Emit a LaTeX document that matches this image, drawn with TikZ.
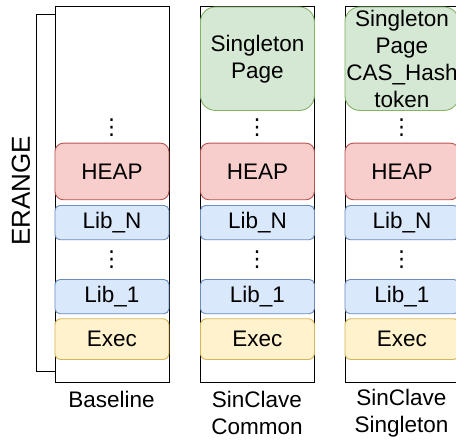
\documentclass[tikz,border=0pt]{standalone}
\usepackage{fontspec}
\setmainfont{Liberation Sans}
\newfontfamily\dotfont{DejaVu Sans}
\definecolor{gfill}{HTML}{D5E8D4}\definecolor{gdraw}{HTML}{82B366}
\definecolor{rfill}{HTML}{F8CECC}\definecolor{rdraw}{HTML}{B85450}
\definecolor{bfill}{HTML}{DAE8FC}\definecolor{bdraw}{HTML}{6C8EBF}
\definecolor{yfill}{HTML}{FFF2CC}\definecolor{ydraw}{HTML}{D6B656}
\begin{document}
\begin{tikzpicture}[x=1pt,y=-1pt,
  every node/.style={font=\fontsize{22.5}{27}\selectfont, inner sep=0pt},
  outer/.style={draw=black, fill=white, line width=1.2pt, anchor=north west, minimum width=114pt, minimum height=376pt},
  layer/.style={anchor=north west, minimum width=114pt, line width=0.9pt, align=center},
  green/.style={layer, draw=gdraw, fill=gfill, rounded corners=15pt, minimum height=103.5pt},
  heap/.style={layer, draw=rdraw, fill=rfill, rounded corners=8.5pt, minimum height=56.6pt},
  lib/.style={layer, draw=bdraw, fill=bfill, rounded corners=5pt, minimum height=34.3pt},
  exec/.style={layer, draw=ydraw, fill=yfill, rounded corners=6pt, minimum height=40.7pt},
  vdot/.style={font=\dotfont\fontsize{22}{22}\selectfont},
  lbl/.style={align=center}
]
\useasboundingbox (0,0) rectangle (456,440);

% ERANGE bracket
\node[outer] (c1) at (54.5,6) {};
\coordinate (bt) at (36.7,14.3);
\coordinate (bb) at (36.7,371.7);
\draw[line width=0.8pt] (c1.west |- bt) -- (bt) -- (bb) -- (c1.west |- bb);
\node[rotate=90, font=\fontsize{26}{30}\selectfont] (erange) at (21,191) {ERANGE};

% Column 1: Baseline
\node[vdot] (d1a) at (111.5,127.5) {⋮};
\node[heap] (h1) at (54.5,142.7) {HEAP};
\node[lib] (ln1) at (54.5,205) {Lib\_N};
\node[vdot] (d1b) at (111.5,260) {⋮};
\node[lib] (l11) at (54.5,279) {Lib\_1};
\node[exec] (e1) at (54.5,318.3) {Exec};
\node[lbl] (t1) at (111.5,399) {Baseline};

% Column 2: SinClave Common
\node[outer] (c2) at (200,6) {};
\node[green] (s2) at (200,6.5) {Singleton\\Page};
\node[vdot] (d2a) at (257,127.5) {⋮};
\node[heap] (h2) at (200,142.7) {HEAP};
\node[lib] (ln2) at (200,205) {Lib\_N};
\node[vdot] (d2b) at (257,260) {⋮};
\node[lib] (l12) at (200,279) {Lib\_1};
\node[exec] (e2) at (200,318.3) {Exec};
\node[lbl] (t2) at (257,413) {SinClave\\Common};

% Column 3: SinClave Singleton
\node[outer] (c3) at (344.5,6) {};
\node[green] (s3) at (344.5,6.5) {Singleton\\Page\\CAS\_Hash\\token};
\node[vdot] (d3a) at (401.5,127.5) {⋮};
\node[heap] (h3) at (344.5,142.7) {HEAP};
\node[lib] (ln3) at (344.5,205) {Lib\_N};
\node[vdot] (d3b) at (401.5,260) {⋮};
\node[lib] (l13) at (344.5,279) {Lib\_1};
\node[exec] (e3) at (344.5,318.3) {Exec};
\node[lbl] (t3) at (401.5,413) {SinClave\\Singleton};
\end{tikzpicture}
\end{document}
